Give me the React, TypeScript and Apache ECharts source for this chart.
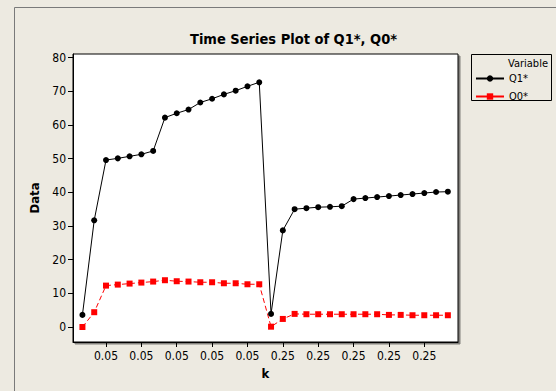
import React, { useEffect, useRef } from "react";
import * as echarts from "echarts";

const kLabels: string[] = [
  "0.05", "0.05", "0.05", "0.05", "0.05", "0.05", "0.05", "0.05",
  "0.05", "0.05", "0.05", "0.05", "0.05", "0.05", "0.05", "0.05",
  "0.25", "0.25", "0.25", "0.25", "0.25", "0.25", "0.25", "0.25",
  "0.25", "0.25", "0.25", "0.25", "0.25", "0.25", "0.25", "0.25",
];
const q1: number[] = [
  3.6, 31.7, 49.6, 50.1, 50.7, 51.3, 52.3, 62.2, 63.5, 64.6, 66.7, 67.8, 69.1, 70.2, 71.5, 72.7,
  3.9, 28.7, 35.0, 35.3, 35.6, 35.7, 35.9, 38.0, 38.3, 38.6, 38.9, 39.2, 39.5, 39.8, 40.1, 40.2,
];
const q0: number[] = [
  0.0, 4.4, 12.3, 12.6, 12.9, 13.2, 13.5, 13.9, 13.6, 13.5, 13.3, 13.3, 13.0, 13.0, 12.7, 12.7,
  0.1, 2.4, 3.9, 3.8, 3.8, 3.8, 3.8, 3.8, 3.8, 3.8, 3.6, 3.6, 3.5, 3.5, 3.5, 3.5,
];
const xTickIdx: number[] = [2, 5, 8, 11, 14, 17, 20, 23, 26, 29];
const yTicks: number[] = [0, 10, 20, 30, 40, 50, 60, 70, 80];
const seriesNames: string[] = ["Q1*", "Q0*"];

const FONT = "'DejaVu Sans Condensed', 'DejaVu Sans', sans-serif";

export default function App() {
  const ref = useRef<HTMLDivElement>(null);
  useEffect(() => {
    if (!ref.current) return;
    const chart = echarts.init(ref.current, null, { renderer: "svg" });
    chart.setOption({
      animation: false,
      backgroundColor: "#EDEAE1",
      textStyle: { fontFamily: FONT },
      title: {
        text: "Time Series Plot of Q1*, Q0*",
        left: 185,
        top: 26,
        textStyle: { fontFamily: FONT, fontSize: 14.5, fontWeight: "bold", color: "#000" },
      },
      graphic: [
        {
          type: "rect",
          shape: { x: 14.5, y: 7.5, width: 700, height: 500 },
          style: { fill: "none", stroke: "#7a7a7a", lineWidth: 1 },
          silent: true,
        },
        {
          type: "rect",
          shape: { x: 471.5, y: 54.5, width: 80, height: 46 },
          style: { fill: "none", stroke: "#000", lineWidth: 1 },
          silent: true,
        },
        {
          type: "text",
          x: 508,
          y: 63,
          style: {
            text: "Variable",
            fontFamily: FONT,
            fontSize: 11,
            fill: "#000",
            verticalAlign: "middle",
            textAlign: "left",
          },
          silent: true,
        },
      ],
      legend: {
        data: seriesNames,
        orient: "vertical",
        left: 475,
        top: 73,
        padding: 0,
        itemWidth: 28,
        itemHeight: 8,
        itemGap: 7,
        textStyle: { fontFamily: FONT, fontSize: 11, color: "#000", padding: [0, 0, 0, 0] },
        lineStyle: { type: "solid" },
      },
      grid: {
        left: 73,
        top: 54,
        right: 98,
        bottom: 49,
        show: true,
        backgroundColor: "#fff",
        borderColor: "#000",
        borderWidth: 1,
        shadowColor: "rgba(0,0,0,0.45)",
        shadowOffsetX: 2,
        shadowOffsetY: 2,
        shadowBlur: 0,
      },
      xAxis: {
        type: "value",
        min: -0.8,
        max: 31.86,
        name: "k",
        nameLocation: "middle",
        nameGap: 24,
        nameTextStyle: { fontFamily: FONT, fontSize: 13, fontWeight: "bold", color: "#000" },
        axisLine: { show: true, onZero: false, lineStyle: { color: "#000", width: 1 } },
        axisTick: { show: true, length: 5, customValues: xTickIdx, lineStyle: { color: "#000" } },
        axisLabel: {
          customValues: xTickIdx,
          formatter: (v: number) => kLabels[Math.round(v)] ?? "",
          fontFamily: FONT,
          fontSize: 12,
          color: "#000",
          margin: 8,
        },
        splitLine: { show: false },
      },
      yAxis: {
        type: "value",
        min: -4.45,
        max: 81.1,
        name: "Data",
        nameLocation: "middle",
        nameRotate: 90,
        nameGap: 30,
        nameTextStyle: { fontFamily: FONT, fontSize: 13, fontWeight: "bold", color: "#000" },
        axisLine: { show: true, onZero: false, lineStyle: { color: "#000", width: 1 } },
        axisTick: { show: true, length: 5, customValues: yTicks, lineStyle: { color: "#000" } },
        axisLabel: {
          customValues: yTicks,
          fontFamily: FONT,
          fontSize: 12,
          color: "#000",
          margin: 7,
        },
        splitLine: { show: false },
      },
      series: [
        {
          name: seriesNames[0],
          type: "line",
          data: q1.map((v, i) => [i, v]),
          symbol: "circle",
          symbolSize: 6,
          showAllSymbol: true,
          lineStyle: { color: "#000", width: 1 },
          itemStyle: { color: "#000" },
          z: 3,
        },
        {
          name: seriesNames[1],
          type: "line",
          data: q0.map((v, i) => [i, v]),
          symbol: "rect",
          symbolSize: 6,
          showAllSymbol: true,
          lineStyle: { color: "#FF0000", width: 1, type: [5, 3] },
          itemStyle: { color: "#FF0000" },
          z: 2,
        },
      ],
    });
    return () => chart.dispose();
  }, []);
  return (
    <div
      ref={ref}
      style={{ position: "fixed", left: 0, top: 0, width: 556, height: 391 }}
    />
  );
}
